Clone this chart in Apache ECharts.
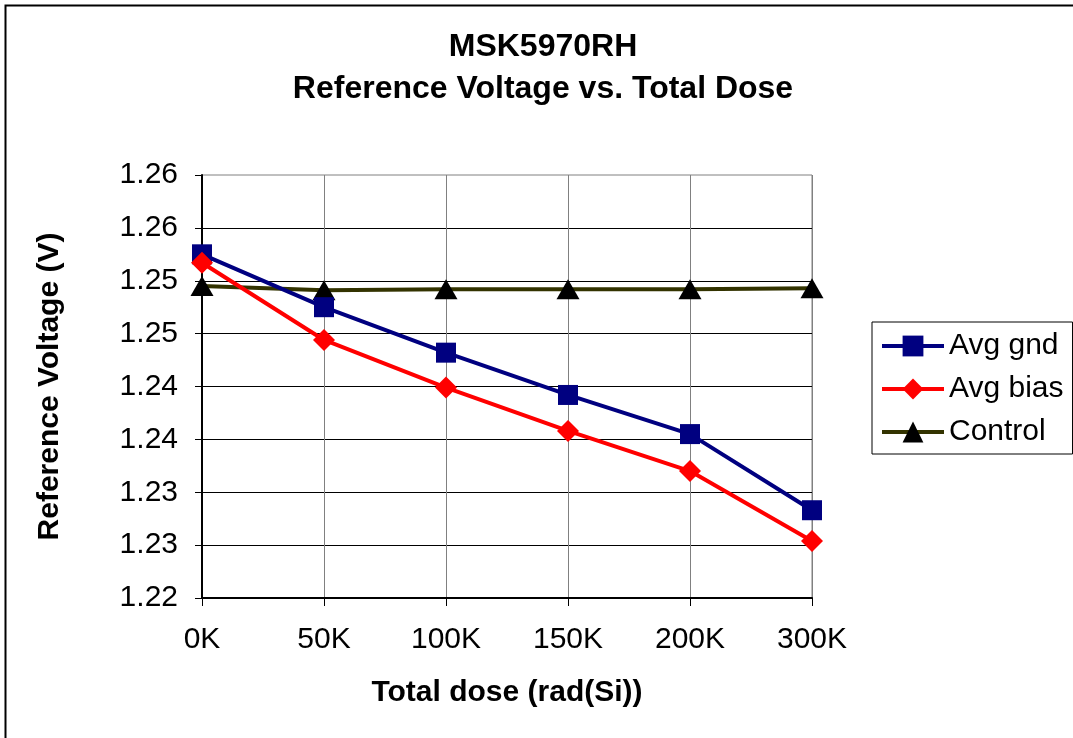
<!DOCTYPE html>
<html>
<head>
<meta charset="utf-8">
<script src="https://cdn.jsdelivr.net/npm/echarts@6/dist/echarts.min.js"></script>
<style>
html,body{margin:0;padding:0;background:#fff;}
#chart{width:1073px;height:738px;}
</style>
</head>
<body>
<div id="chart"></div>
<script>
var categories = ['0K', '50K', '100K', '150K', '200K', '300K'];
var avgGnd = [1.2525, 1.2475, 1.2432, 1.2392, 1.2355, 1.2283];
var avgBias = [1.2517, 1.2444, 1.2399, 1.2358, 1.2320, 1.2254];
var control = [1.2495, 1.2491, 1.2492, 1.2492, 1.2492, 1.2493];
var yTickLabels = ['1.22', '1.23', '1.23', '1.24', '1.24', '1.25', '1.25', '1.26', '1.26'];
var yMin = 1.22, yMax = 1.26, yStep = 0.005;

var font = '"Liberation Sans", Arial, sans-serif';
var chart = echarts.init(document.getElementById('chart'), null, {renderer: 'canvas'});
chart.setOption({
  animation: false,
  backgroundColor: '#ffffff',
  title: {
    text: 'MSK5970RH\nReference Voltage vs. Total Dose',
    left: 543, top: 26, textAlign: 'center', padding: 0,
    textStyle: {fontFamily: font, fontSize: 32, fontWeight: 'bold', color: '#000', lineHeight: 42}
  },
  graphic: [{
    type: 'rect', left: 3, top: 3, silent: true,
    shape: {x: 0, y: 0, width: 1100, height: 800},
    style: {fill: 'none', stroke: '#000', lineWidth: 2}
  }],
  grid: {left: 202, top: 175, width: 610, height: 423, show: true, borderColor: '#808080', borderWidth: 1, backgroundColor: 'transparent'},
  legend: {
    orient: 'vertical', left: 872, top: 322,
    padding: [9, 9, 7, 8],
    itemWidth: 62, itemHeight: 26, itemGap: 13,
    borderColor: '#000', borderWidth: 1,
    lineStyle: {width: 4},
    textStyle: {fontFamily: font, fontSize: 30, color: '#000', lineHeight: 30},
    data: ['Avg gnd', 'Avg bias', 'Control']
  },
  xAxis: {
    type: 'category', data: categories, boundaryGap: false,
    name: 'Total dose (rad(Si))', nameLocation: 'middle', nameGap: 80,
    nameTextStyle: {fontFamily: font, fontSize: 30, fontWeight: 'bold', color: '#000'},
    axisLine: {lineStyle: {color: '#000', width: 2}},
    axisTick: {show: true, inside: false, length: 8, alignWithLabel: true, lineStyle: {color: '#000'}},
    axisLabel: {fontFamily: font, fontSize: 30, color: '#000', margin: 27},
    splitLine: {show: true, lineStyle: {color: '#808080', width: 1}}
  },
  yAxis: {
    type: 'value', min: yMin, max: yMax, interval: yStep,
    name: 'Reference Voltage (V)', nameLocation: 'middle', nameGap: 137,
    nameTextStyle: {fontFamily: font, fontSize: 30, fontWeight: 'bold', color: '#000'},
    axisLine: {show: true, lineStyle: {color: '#000', width: 2}},
    axisTick: {show: true, inside: false, length: 7, lineStyle: {color: '#000'}},
    axisLabel: {
      fontFamily: font, fontSize: 30, color: '#000', margin: 24,
      formatter: function (v) { return yTickLabels[Math.round((v - yMin) / yStep)]; }
    },
    splitLine: {show: true, showMaxLine: false, lineStyle: {color: '#000', width: 1}}
  },
  series: [
    {
      name: 'Avg gnd', type: 'line', data: avgGnd,
      symbol: 'rect', symbolSize: 20,
      itemStyle: {color: '#000080'},
      lineStyle: {color: '#000080', width: 4}, z: 3
    },
    {
      name: 'Avg bias', type: 'line', data: avgBias,
      symbol: 'diamond', symbolSize: [22, 22],
      itemStyle: {color: '#ff0000'},
      lineStyle: {color: '#ff0000', width: 4}, z: 4
    },
    {
      name: 'Control', type: 'line', data: control,
      symbol: 'triangle', symbolSize: [23, 20],
      itemStyle: {color: '#000000'},
      lineStyle: {color: '#333300', width: 4}, z: 2
    }
  ]
});
</script>
</body>
</html>
